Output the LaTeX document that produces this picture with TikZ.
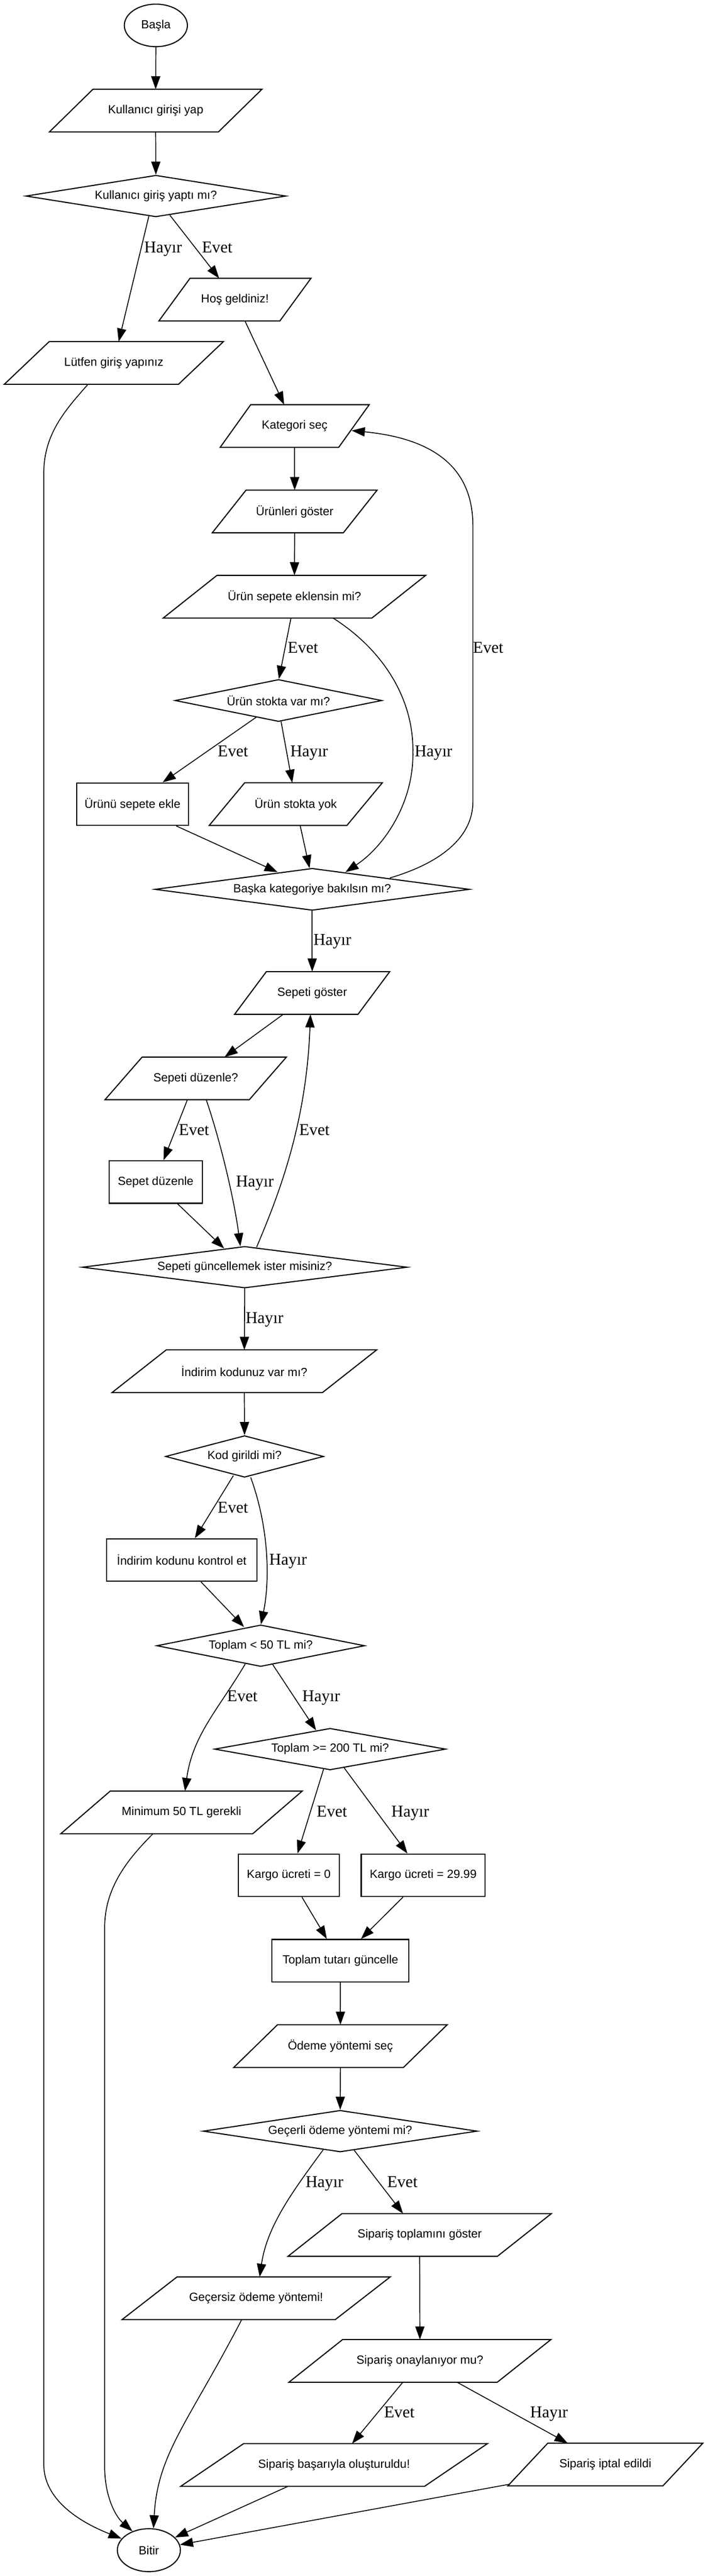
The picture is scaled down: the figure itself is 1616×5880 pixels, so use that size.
\documentclass[tikz,border=0pt]{standalone}
\usepackage{fontspec}
\setmainfont{Liberation Serif}
\newfontfamily\nodefont{Liberation Sans}
\usetikzlibrary{shapes.geometric,arrows.meta,calc}
\begin{document}
\begin{tikzpicture}[x=1pt,y=-1pt,
  nodeline/.style={draw=black,line width=2.5pt},
  ntext/.style={font={\nodefont\fontsize{27}{32}\selectfont},text=black},
  term/.style={ellipse,nodeline,ntext,inner sep=0pt,minimum width=144pt,minimum height=97pt},
  io/.style={rectangle,draw=none,ntext,inner sep=0pt,minimum height=97pt,minimum width=#1},
  proc/.style={rectangle,nodeline,ntext,inner sep=0pt,minimum height=97pt,minimum width=#1},
  dec/.style n args={3}{diamond,nodeline,ntext,inner sep=0pt,minimum width=#1,minimum height=#2,aspect=#3},
  lbl/.style={font={\fontsize{37.8}{45}\selectfont},inner sep=0pt,anchor=base},
  conn/.style={line width=2pt,-{Triangle[length=30pt,width=21pt]}},
]
\fill[white] (0,0) rectangle (1616,5880);
\useasboundingbox (0,0) rectangle (1616,5880);

% ---------------- nodes ----------------
\node[term] (basla) at (356,58) {Başla};
\node[io=485pt] (kgy) at (355.5,252.5) {Kullanıcı girişi yap};
\node[dec={594pt}{95pt}{6.25}] (kgm) at (356,447.5) {Kullanıcı giriş yaptı mı?};
\node[io=347pt] (hos) at (536.5,684) {Hoş geldiniz!};
\node[io=500pt] (lut) at (260,828.5) {Lütfen giriş yapınız};
\node[io=340pt] (kat) at (673,972.5) {Kategori seç};
\node[io=376pt] (urg) at (673,1167.5) {Ürünleri göster};
\node[io=599pt] (use) at (672.5,1362) {Ürün sepete eklensin mi?};
\node[dec={472pt}{96pt}{4.92}] (stk) at (636,1599) {Ürün stokta var mı?};
\node[proc=255pt] (uek) at (302.5,1835.5) {Ürünü sepete ekle};
\node[io=395pt] (syk) at (675.5,1835.5) {Ürün stokta yok};
\node[dec={718pt}{96pt}{7.48}] (bas) at (713,2030) {Başka kategoriye bakılsın mı?};
\node[io=354pt] (sgo) at (713,2266.5) {Sepeti göster};
\node[io=414pt] (sdq) at (447,2461.5) {Sepeti düzenle?};
\node[proc=213pt] (sdz) at (355.5,2698) {Sepet düzenle};
\node[dec={742pt}{95pt}{7.81}] (sgu) at (559,2892.5) {Sepeti güncellemek ister misiniz?};
\node[io=604pt] (ind) at (558,3130) {İndirim kodunuz var mı?};
\node[dec={361pt}{95pt}{3.8}] (kod) at (558.5,3324.5) {Kod girildi mi?};
\node[proc=344pt] (ikk) at (415,3561) {İndirim kodunu kontrol et};
\node[dec={475pt}{95pt}{5}] (tfifty) at (595.5,3756.5) {Toplam < 50 TL mi?};
\node[dec={528pt}{95pt}{5.56}] (ttwo) at (754,3992.5) {Toplam >= 200 TL mi?};
\node[io=551pt] (mtl) at (414.5,4137) {Minimum 50 TL gerekli};
\node[proc=231pt] (kzero) at (659.5,4280.5) {Kargo ücreti = 0};
\node[proc=283pt] (kfee) at (966.5,4280.5) {Kargo ücreti = 29.99};
\node[proc=313pt] (ttg) at (777.5,4475.5) {Toplam tutarı güncelle};
\node[io=487pt] (ode) at (777.5,4670.5) {Ödeme yöntemi seç};
\node[dec={626pt}{95pt}{6.59}] (gec) at (777,4864.5) {Geçerli ödeme yöntemi mi?};
\node[io=601pt] (stg) at (958.5,5101.5) {Sipariş toplamını göster};
\node[io=612pt] (gsz) at (585,5246) {Geçersiz ödeme yöntemi!};
\node[io=598pt] (sou) at (959,5389) {Sipariş onaylanıyor mu?};
\node[io=700pt] (sbo) at (763,5626.5) {Sipariş başarıyla oluşturuldu!};
\node[io=445pt] (sie) at (1382.5,5625.5) {Sipariş iptal edildi};
\node[term,minimum height=98pt] (bitir) at (340,5821) {Bitir};

% parallelogram outlines
\foreach \n/\w in {kgy/485,hos/347,lut/500,kat/340,urg/376,use/599,syk/395,sgo/354,sdq/414,ind/604,mtl/551,ode/487,stg/601,gsz/612,sou/598,sbo/700,sie/445}
  \draw[nodeline] ($(\n.north west)+(0.205*\w,0)$) -- (\n.north east) -- ($(\n.south east)+(-0.205*\w,0)$) -- (\n.south west) -- cycle;

% ---------------- connectors ----------------
\draw[conn] (basla.south) -- (kgy.north);
\draw[conn] (kgy.south) -- (kgm.north);
\draw[conn] ($(kgm.south)+(-16,-3)$) -- ($(lut.north)+(11,0)$);
\draw[conn] ($(kgm.south)+(32,-5)$) -- ($(hos.north)+(-36,0)$);
\draw[conn] ($(lut.south)+(-59,0)$) .. controls (150,935) and (100,990) .. (100,1080)
   -- (100,5625) .. controls (100,5710) and (190,5760) .. (bitir.157);
\draw[conn] ($(hos.south)+(23,0)$) -- ($(kat.north)+(-24,0)$);
\draw[conn] (kat.south) -- (urg.north);
\draw[conn] (urg.south) -- (use.north);
\draw[conn] ($(use.south)+(-8,0)$) -- ($(stk.north)+(1,0)$);
\draw[conn] ($(use.south)+(88,0)$) .. controls (870,1480) and (945,1590) .. (943,1717)
   .. controls (945,1830) and (880,1930) .. ($(bas.north)+(76,10)$);
\draw[conn] ($(bas.east)+(-183,-26)$) .. controls (990,1975) and (1080,1920) .. (1080,1830)
   -- (1080,1200) .. controls (1080,1060) and (980,1000) .. ($(kat.north east)+(-40,59)$);
\draw[conn] ($(stk.south)+(-51,-11)$) -- ($(uek.north)+(69,0)$);
\draw[conn] ($(stk.south)+(6,-1)$) -- ($(syk.north)+(-8,0)$);
\draw[conn] ($(uek.south)+(100,0)$) -- ($(bas.north)+(-79,10)$);
\draw[conn] ($(syk.south)+(10,0)$) -- ($(bas.north)+(-6,1)$);
\draw[conn] (bas.south) -- (sgo.north);
\draw[conn] ($(sgo.south)+(-66,0)$) -- ($(sdq.north)+(66,0)$);
\draw[conn] ($(sdq.south)+(-19,0)$) -- ($(sdz.north)+(18,0)$);
\draw[conn] ($(sdq.south)+(24,0)$) .. controls (505,2610) and (535,2740) .. ($(sgu.north)+(-10,1)$);
\draw[conn] ($(sdz.south)+(50,0)$) -- ($(sgu.north)+(-47,6)$);
\draw[conn] ($(sgu.north)+(27,3)$) .. controls (640,2720) and (700,2560) .. ($(sgo.south)+(-4,0)$);
\draw[conn] (sgu.south) -- (ind.north);
\draw[conn] (ind.south) -- (kod.north);
\draw[conn] ($(kod.south)+(-25.5,-5)$) -- ($(ikk.north)+(30,0)$);
\draw[conn] ($(kod.south)+(14,-1)$) .. controls (612,3480) and (618,3600) .. ($(tfifty.north)+(0.5,0)$);
\draw[conn] ($(ikk.south)+(44,0)$) -- ($(tfifty.north)+(-38,6)$);
\draw[conn] ($(tfifty.south)+(-35.5,-7)$) .. controls (500,3900) and (440,3960) .. ($(mtl.north)+(8,0)$);
\draw[conn] ($(tfifty.south)+(27.5,-5.5)$) -- ($(ttwo.north)+(-32,6)$);
\draw[conn] ($(ttwo.south)+(-15,-3)$) -- ($(kzero.north)+(20,0)$);
\draw[conn] ($(ttwo.south)+(32,-6)$) -- ($(kfee.north)+(-36,0)$);
\draw[conn] ($(kzero.south)+(30,0)$) -- ($(ttg.north)+(-31,0)$);
\draw[conn] ($(kfee.south)+(-46,0)$) -- ($(ttg.north)+(47,0)$);
\draw[conn] (ttg.south) -- (ode.north);
\draw[conn] (ode.south) -- (gec.north);
\draw[conn] ($(mtl.south)+(-65,0)$) .. controls (290,4245) and (239,4310) .. (239,4400)
   -- (239,5630) .. controls (239,5700) and (265,5745) .. (bitir.131);
\draw[conn] ($(gec.south)+(-39,-6)$) .. controls (670,5000) and (610,5080) .. ($(gsz.north)+(8,0)$);
\draw[conn] ($(gec.south)+(32,-5)$) -- ($(stg.north)+(-38,0)$);
\draw[conn] (stg.south) -- (sou.north);
\draw[conn] ($(gsz.south)+(-33,0)$) .. controls (430,5530) and (360,5600) .. (bitir.78);
\draw[conn] ($(sou.south)+(-39,0)$) -- ($(sbo.north)+(41,0)$);
\draw[conn] ($(sou.south)+(85,0)$) -- ($(sie.north)+(-86,0)$);
\draw[conn] ($(sbo.south)+(-105,0)$) -- (bitir.26);
\draw[conn] ($(sie.south west)+(5,-4)$) -- (bitir.10);

% ---------------- labels ----------------
\node[lbl] (l1) at (372.5,577) {Hayır};
\node[lbl] (l2) at (496,577) {Evet};
\node[lbl] (l3) at (692,1490) {Evet};
\node[lbl] (l4) at (990,1727) {Hayır};
\node[lbl] (l5) at (1115,1490) {Evet};
\node[lbl] (l6) at (532,1727) {Evet};
\node[lbl] (l7) at (706,1727) {Hayır};
\node[lbl] (l8) at (759,2157) {Hayır};
\node[lbl] (l9) at (443,2591) {Evet};
\node[lbl] (l10) at (582,2709) {Hayır};
\node[lbl] (l11) at (718,2591) {Evet};
\node[lbl] (l12) at (604,3021) {Hayır};
\node[lbl] (l13) at (532,3453) {Evet};
\node[lbl] (l14) at (658,3572) {Hayır};
\node[lbl] (l15) at (553.5,3884) {Evet};
\node[lbl] (l16) at (733.5,3884) {Hayır};
\node[lbl] (l17) at (758,4147) {Evet};
\node[lbl] (l18) at (937,4147) {Hayır};
\node[lbl] (l19) at (741,4993) {Hayır};
\node[lbl] (l20) at (919,4993) {Evet};
\node[lbl] (l21) at (912,5518) {Evet};
\node[lbl] (l22) at (1254,5518) {Hayır};
\end{tikzpicture}
\end{document}
